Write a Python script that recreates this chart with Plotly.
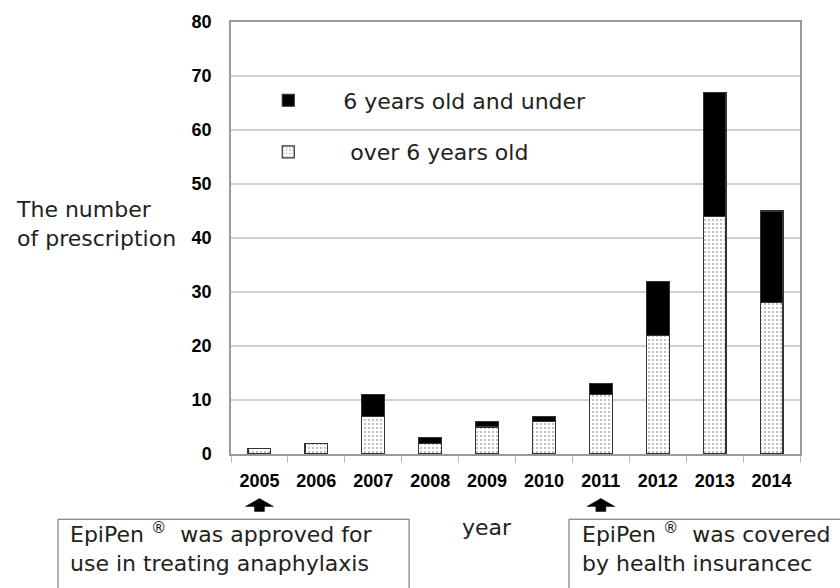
import plotly.graph_objects as go

years = ["2005", "2006", "2007", "2008", "2009", "2010", "2011", "2012", "2013", "2014"]
over6 = [1, 2, 7, 2, 5, 6, 11, 22, 44, 28]
under6 = [0, 0, 4, 1, 1, 1, 2, 10, 23, 17]
yticks = [0, 10, 20, 30, 40, 50, 60, 70, 80]
arrow_years = ["2005", "2011"]

TXT = "DejaVu Sans"
TICK = "Liberation Sans"

fig = go.Figure()
fig.add_trace(go.Bar(
    x=years, y=over6, name=" over 6 years old", legendgroup="b", legendrank=2,
    marker=dict(color="white", line=dict(color="#333", width=1.2),
                pattern=dict(shape=".", fgcolor="#666", bgcolor="white", size=4, solidity=0.22)),
))
fig.add_trace(go.Bar(
    x=years, y=under6, name="6 years old and under", legendgroup="a", legendrank=1,
    marker=dict(color="black", line=dict(color="#333", width=1.2)),
))

fig.update_layout(
    width=840, height=588,
    barmode="stack", bargap=0.6,
    plot_bgcolor="white", paper_bgcolor="white",
    margin=dict(l=231, r=40, t=19, b=134),
    showlegend=True,
    legend=dict(x=0.004, y=0.867, xanchor="left", yanchor="top",
                traceorder="grouped", tracegroupgap=20, itemwidth=100,
                font=dict(family=TXT, size=22, color="#222"),
                bgcolor="rgba(0,0,0,0)"),
    xaxis=dict(type="category", range=[-0.5, 9.5], showline=True, linecolor="#999", linewidth=1.5, mirror=True,
               ticks="outside", tickson="boundaries", ticklen=7, tickcolor="#bbb",
               ticklabelstandoff=10,
               tickfont=dict(family=TICK, size=18, color="black", weight="bold"),
               showgrid=False),
    yaxis=dict(range=[0, 80], tickvals=yticks, showline=True, linecolor="#999", linewidth=1.5, mirror=True,
               showgrid=True, gridcolor="#d0d0d0", gridwidth=1.5, zeroline=False,
               ticks="", ticklabelstandoff=14,
               tickfont=dict(family=TICK, size=18, color="black", weight="bold")),
)

# y-axis title (horizontal, left of the axis)
fig.add_annotation(xref="paper", yref="paper", x=-0.381, y=0.533, xanchor="left", yanchor="middle",
                   text="The number<br>of prescription", showarrow=False, align="left",
                   font=dict(family=TXT, size=22, color="#222"))
# x-axis title
fig.add_annotation(xref="paper", yref="paper", x=0.45, y=-0.17, xanchor="center", yanchor="middle",
                   text="year", showarrow=False, font=dict(family=TXT, size=22, color="#222"))

# block arrows under the marked years
arrow_path = "M-5,0 L5,0 L5,5 L14,5 L0,13 L-14,5 L-5,5 Z"
for yr in arrow_years:
    fig.add_shape(type="path", xref="x", yref="paper", xsizemode="pixel", ysizemode="pixel",
                  xanchor=years.index(yr), yanchor=-0.133, path=arrow_path,
                  fillcolor="black", line=dict(color="black", width=0.5))

# note boxes
fig.add_shape(type="rect", xref="paper", yref="paper", x0=-0.304, x1=0.313, y0=-0.151, y1=-0.4,
              line=dict(color="#666", width=1), fillcolor="rgba(0,0,0,0)")
fig.add_shape(type="rect", xref="paper", yref="paper", x0=0.594, x1=1.2, y0=-0.151, y1=-0.4,
              line=dict(color="#666", width=1), fillcolor="rgba(0,0,0,0)")
fig.add_annotation(xref="paper", yref="paper", x=-0.2865, y=-0.216, xanchor="left", yanchor="middle",
                   text="EpiPen <sup>®</sup>  was approved for<br>use in treating anaphylaxis",
                   showarrow=False, align="left", font=dict(family=TXT, size=22, color="#222"))
fig.add_annotation(xref="paper", yref="paper", x=0.613, y=-0.216, xanchor="left", yanchor="middle",
                   text="EpiPen <sup>®</sup>  was covered<br>by health insurancec",
                   showarrow=False, align="left", font=dict(family=TXT, size=22, color="#222"))

fig.write_html("out.html", config={"displayModeBar": False},
               post_script="document.body.style.margin='0px';")
